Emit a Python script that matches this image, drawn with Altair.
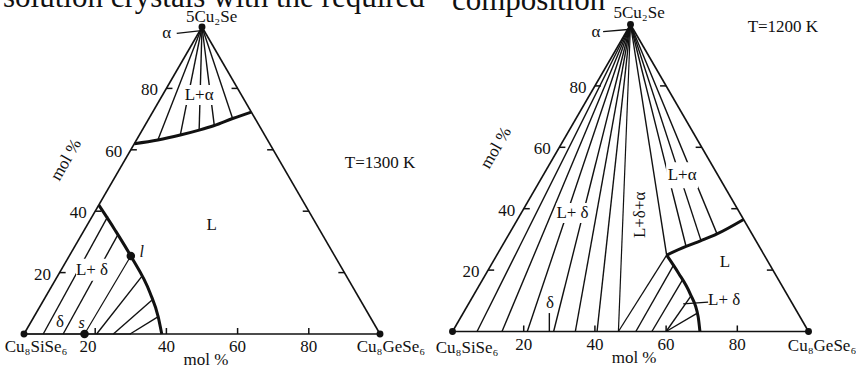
import math
import altair as alt
import pandas as pd

H = math.sqrt(3) / 2

# ---------------- compositions in mol %: (Cu8GeSe6, 5Cu2Se) ----------------
TICKS = [20, 40, 60, 80]

# T = 1300 K
a1300_liq_ge = [0, 6, 11.5, 16, 19.5, 23.5, 27.7]
a1300_liq_cu = [62, 63.2, 64.8, 66.4, 67.9, 70.2, 72.3]
a1300_tie_ge = [6, 11.5, 16, 19.5, 23.5]
a1300_tie_cu = [63.2, 64.8, 66.4, 67.9, 70.2]

d1300_liq_ge = [0, 8.6, 17.3, 28.8, 34.9, 38.7]
d1300_liq_cu = [42, 33.9, 25.4, 13.3, 5.6, 0]
d1300_tie_sol = [5.4, 11, 20.4, 25.1, 29.8]
d1300_tie_ge = [4.4, 10.2, 23.7, 30.4, 34.8]
d1300_tie_cu = [38.3, 32.3, 18.7, 11, 5.6]
d1300_range = [0, 30]
s1300 = [17, 0]
l1300 = [17.3, 25.4]

# T = 1200 K
a1200_liq_ge = [47.7, 51.75, 55, 58.4, 63.5]
a1200_liq_cu = [24.9, 27.7, 29.6, 31.8, 36.5]
a1200_tie_ge = [51.75, 55, 58.4]
a1200_tie_cu = [27.7, 29.6, 31.8]

d1200_liq_ge = [47.7, 54, 60.5, 66.6, 69.5]
d1200_liq_cu = [24.9, 19, 12.4, 4.8, 0]
d1200_tie_sol = [51.5, 56, 60, 60]
d1200_tie_ge = [51.3, 56.2, 61.2, 65.7]
d1200_tie_cu = [21.6, 16.8, 11.5, 5.9]
ad1200_tie_sol = [6.9, 13.9, 21.0, 28.4, 34.5, 40.6]
d1200_range = [0, 60]
triple1200_sol = 46.6
triple1200_liq = [47.7, 24.9]

# ---------------- layout ----------------
PX, PY = 3.56, 3.545                      # pixels per composition unit
PANELS = {"1300": (0.0, 0.0), "1200": (120.37, 0.705)}
FONT = "Liberation Serif, Times New Roman, serif"
INK = "#111111"


def pt(panel, ge, cu):
    ox, oy = PANELS[panel]
    return ge + cu / 2 + ox, cu * H + oy


def at(panel, X, Y):
    ox, oy = PANELS[panel]
    return X + ox, Y + oy


segs = []


def seg(panel, a, b, kind):
    x, y = pt(panel, *a)
    x2, y2 = pt(panel, *b)
    segs.append(dict(x=x, y=y, x2=x2, y2=y2, kind=kind))


def seg_xy(a, b, kind):
    segs.append(dict(x=a[0], y=a[1], x2=b[0], y2=b[1], kind=kind))


APEX, LEFT, RIGHT = (0, 100), (0, 0), (100, 0)
for p in PANELS:
    seg(p, LEFT, RIGHT, "edge")
    seg(p, LEFT, APEX, "edge")
    seg(p, RIGHT, APEX, "edge")
    for v in TICKS:
        x, y = pt(p, 0, v)
        seg_xy((x, y), (x + 1.7, y), "tick")
        x, y = pt(p, v, 0)
        seg_xy((x, y), (x, y + 1.7), "tick")
        x, y = pt(p, 100 - v, v)
        seg_xy((x, y), (x - 1.7, y), "tick")

# 1300 K tie lines
for g, c in zip(a1300_tie_ge, a1300_tie_cu):
    seg("1300", APEX, (g, c), "tie")
for s, g, c in zip(d1300_tie_sol, d1300_tie_ge, d1300_tie_cu):
    seg("1300", (s, 0), (g, c), "tie")
seg("1300", (d1300_range[0], 0), (d1300_range[1], 0), "thick")
seg("1300", tuple(s1300), tuple(l1300), "thick")

# 1200 K tie lines
for s in ad1200_tie_sol:
    seg("1200", APEX, (s, 0), "tie")
for g, c in zip(a1200_tie_ge, a1200_tie_cu):
    seg("1200", APEX, (g, c), "tie")
for s, g, c in zip(d1200_tie_sol, d1200_tie_ge, d1200_tie_cu):
    seg("1200", (s, 0), (g, c), "tie")
seg("1200", (d1200_range[0], 0), (d1200_range[1], 0), "thick")
seg("1200", APEX, (triple1200_sol, 0), "thick")
seg("1200", APEX, tuple(triple1200_liq), "tie")
seg("1200", (triple1200_sol, 0), tuple(triple1200_liq), "mid")

# leader lines of a few labels
for panel, a, b in [("1300", (42.9, 84.8), (49.2, 85.5)),
                    ("1200", (42.3, 84.6), (49.3, 85.2)),
                    ("1200", (64.8, 7.8), (71.8, 8.3)),
                    ("1200", (27.2, 5.2), (27.2, 0.0))]:
    seg_xy(at(panel, *a), at(panel, *b), "tie")

seg_df = pd.DataFrame(segs)

# liquidus curves
curve_rows = []
for name, panel, ges, cus in [("a1300", "1300", a1300_liq_ge, a1300_liq_cu),
                              ("d1300", "1300", d1300_liq_ge, d1300_liq_cu),
                              ("a1200", "1200", a1200_liq_ge, a1200_liq_cu),
                              ("d1200", "1200", d1200_liq_ge, d1200_liq_cu)]:
    for i, (g, c) in enumerate(zip(ges, cus)):
        x, y = pt(panel, g, c)
        curve_rows.append(dict(x=x, y=y, curve=name, i=i))
curve_df = pd.DataFrame(curve_rows)

# dots: pure compounds and the s / l pair
dot_rows = []
for p in PANELS:
    for v in (APEX, LEFT, RIGHT):
        x, y = pt(p, *v)
        dot_rows.append(dict(x=x, y=y, kind="vertex"))
for v in (s1300, l1300):
    x, y = pt("1300", *v)
    dot_rows.append(dict(x=x, y=y, kind="node"))
dot_df = pd.DataFrame(dot_rows)

# labels: panel, X, Y (panel units), text, style, box half-width / half-height (px)
labels = [
    ("1300", 52.7, 89.4, "5Cu₂Se", "n", 0, 0),
    ("1300", 40.1, 84.8, "α", "n", 0, 0),
    ("1300", 49.2, 67.4, "L+α", "n", 16, 10),
    ("1300", 52.7, 30.7, "L", "n", 0, 0),
    ("1300", 100.0, 48.2, "T=1300 K", "n", 0, 0),
    ("1300", 19.1, 18.1, "L+ δ", "n", 16, 11),
    ("1300", 10.1, 3.4, "δ", "n", 0, 0),
    ("1300", 16.2, 3.1, "s", "i", 0, 0),
    ("1300", 33.1, 23.2, "l", "i", 0, 0),
    ("1300", 3.4, -3.7, "Cu₈SiSe₆", "n", 0, 0),
    ("1300", 103.1, -3.7, "Cu₈GeSe₆", "n", 0, 0),
    ("1300", 51.1, -7.3, "mol %", "n", 0, 0),
    ("1300", 11.8, 49.1, "mol %", "r300", 0, 0),
    ("1200", 52.4, 89.8, "5Cu₂Se", "n", 0, 0),
    ("1200", 40.3, 84.6, "α", "n", 0, 0),
    ("1200", 92.8, 85.9, "T=1200 K", "n", 0, 0),
    ("1200", 33.7, 33.4, "L+ δ", "n", 16, 10),
    ("1200", 52.7, 32.9, "L+δ+α", "r270", 0, 0),
    ("1200", 64.5, 44.1, "L+α", "n", 16, 13),
    ("1200", 76.5, 19.7, "L", "n", 0, 0),
    ("1200", 76.3, 8.9, "L+ δ", "n", 0, 0),
    ("1200", 27.4, 8.0, "δ", "n", 0, 0),
    ("1200", 4.1, -4.7, "Cu₈SiSe₆", "n", 0, 0),
    ("1200", 103.8, -4.1, "Cu₈GeSe₆", "n", 0, 0),
    ("1200", 51.0, -7.5, "mol %", "n", 0, 0),
    ("1200", 12.2, 51.8, "mol %", "r300", 0, 0),
]
lab_rows, box_rows = [], []
for panel, X, Y, text, style, bw, bh in labels:
    x, y = at(panel, X, Y)
    angle = {"r300": 300, "r270": 270}.get(style, 0)
    lab_rows.append(dict(x=x, y=y, text=text, style=style, angle=angle))
    if bw:
        box_rows.append(dict(x=x - bw / PX, x2=x + bw / PX, y=y - bh / PY, y2=y + bh / PY))
lab_df = pd.DataFrame(lab_rows)
box_df = pd.DataFrame(box_rows)

# tick labels
bottom_rows, side_rows = [], []
for p in PANELS:
    for v in TICKS:
        x, y = pt(p, v, 0)
        nudge = -2.0 if (p == "1300" and v == 20) else 0.0
        bottom_rows.append(dict(x=x + nudge, y=y, text=str(v)))
        x, y = pt(p, 0, v)
        side_rows.append(dict(x=x, y=y, text=str(v)))
bottom_df = pd.DataFrame(bottom_rows)
side_df = pd.DataFrame(side_rows)

# running text of the page above the figure
page_df = pd.DataFrame([
    dict(x=-5.9, y=92.2, text="solution crystals with the required"),
    dict(x=120.2, y=91.4, text="composition"),
])

# ---------------- chart ----------------
XS = alt.Scale(domain=[-24 / PX, 832 / PX], nice=False, zero=False)
YS = alt.Scale(domain=[-31 / PY, 334 / PY], nice=False, zero=False)
X = alt.X("x:Q", scale=XS, axis=None)
Y = alt.Y("y:Q", scale=YS, axis=None)

page = alt.Chart(page_df).mark_text(
    font=FONT, fontSize=31, align="left", baseline="alphabetic", color=INK
).encode(x=X, y=Y, text="text:N")

lines = alt.Chart(seg_df).mark_rule(color=INK).encode(
    x=X, y=Y, x2="x2:Q", y2="y2:Q",
    strokeWidth=alt.StrokeWidth(
        "kind:N",
        scale=alt.Scale(domain=["edge", "tick", "tie", "mid", "thick"],
                        range=[1.6, 1.2, 1.2, 1.8, 3.6]),
        legend=None,
    ),
)

curves = alt.Chart(curve_df).mark_line(
    color=INK, strokeWidth=3, interpolate="monotone"
).encode(x=X, y=Y, detail="curve:N", order="i:Q")

boxes = alt.Chart(box_df).mark_rect(color="white", opacity=1).encode(
    x=X, y=Y, x2="x2:Q", y2="y2:Q"
)

upright = alt.Chart(lab_df).transform_filter(alt.datum.style != "i").mark_text(
    font=FONT, fontSize=17, align="center", baseline="middle", color=INK
).encode(x=X, y=Y, text="text:N", angle=alt.Angle("angle:Q", scale=None))

italic = alt.Chart(lab_df).transform_filter(alt.datum.style == "i").mark_text(
    font=FONT, fontSize=16, fontStyle="italic", align="center", baseline="middle", color=INK
).encode(x=X, y=Y, text="text:N")

bottom_labels = alt.Chart(bottom_df).mark_text(
    font=FONT, fontSize=17, align="center", baseline="middle", dy=13, color=INK
).encode(x=X, y=Y, text="text:N")

side_labels = alt.Chart(side_df).mark_text(
    font=FONT, fontSize=17, align="center", baseline="middle", dx=-17, dy=2, color=INK
).encode(x=X, y=Y, text="text:N")

dots = alt.Chart(dot_df).mark_circle(color=INK, opacity=1).encode(
    x=X, y=Y,
    size=alt.Size("kind:N", scale=alt.Scale(domain=["vertex", "node"], range=[48, 72]), legend=None),
)

chart = alt.layer(
    page, lines, curves, boxes, upright, italic, bottom_labels, side_labels, dots
).properties(
    width=856, height=365, autosize=alt.AutoSizeParams(type="none"), padding=0,
    background="white",
).configure_view(stroke=None)

chart.save("out.html", embed_options={"renderer": "svg", "actions": False})
